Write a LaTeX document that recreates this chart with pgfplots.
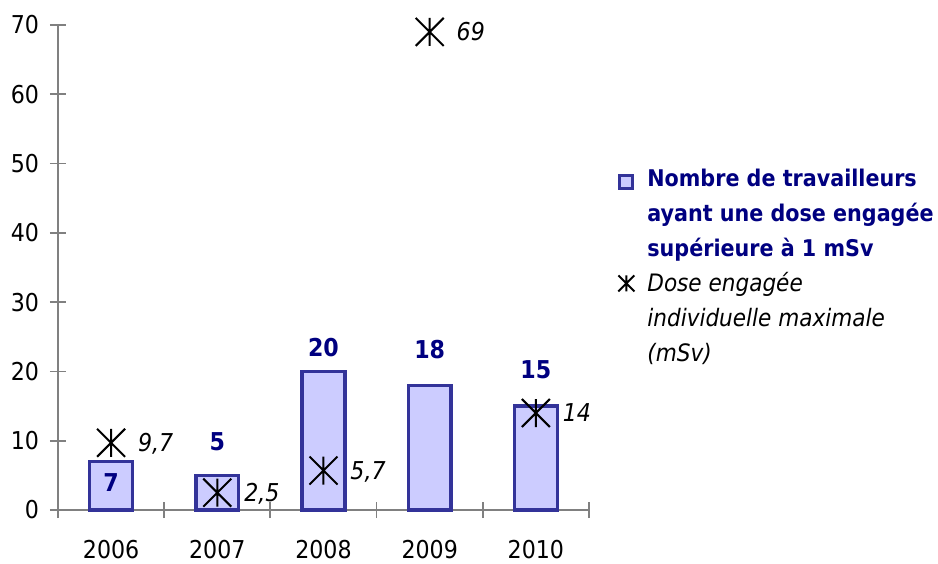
\documentclass[border=0pt]{standalone}
\usepackage{pgfplots}
\pgfplotsset{compat=1.18}
\usepackage{fontspec}
\setmainfont{DejaVuSansCondensed.ttf}[BoldFont=DejaVuSansCondensed-Bold.ttf, ItalicFont=DejaVuSansCondensed-Oblique.ttf, BoldItalicFont=DejaVuSansCondensed-BoldOblique.ttf]
\definecolor{barfill}{HTML}{CCCCFF}
\definecolor{bardraw}{HTML}{333399}
\definecolor{navy}{HTML}{000080}
\definecolor{axisgray}{HTML}{808080}
\newcommand\ls{\rule[-5pt]{0pt}{17pt}}
\newcommand\lsb{\rule[-8pt]{0pt}{20pt}}
\newcommand\lfb{\fontsize{11.5}{17}\selectfont\bfseries}
\newcommand\lfi{\fontsize{12}{17}\selectfont\itshape}
\pgfdeclareplotmark{xstar}{%
  \pgfpathmoveto{\pgfqpoint{-\pgfplotmarksize}{-\pgfplotmarksize}}%
  \pgfpathlineto{\pgfqpoint{\pgfplotmarksize}{\pgfplotmarksize}}%
  \pgfpathmoveto{\pgfqpoint{-\pgfplotmarksize}{\pgfplotmarksize}}%
  \pgfpathlineto{\pgfqpoint{\pgfplotmarksize}{-\pgfplotmarksize}}%
  \pgfpathmoveto{\pgfqpoint{0pt}{-\pgfplotmarksize}}%
  \pgfpathlineto{\pgfqpoint{0pt}{\pgfplotmarksize}}%
  \pgfusepathqstroke}
\pgfplotsset{
  barlegend/.style={legend image code/.code={\draw[##1, line width=1.5pt] (0.75pt,-1.25pt) rectangle (7.25pt,5.25pt);}},
  starlegend/.style={legend image code/.code={\draw[##1, mark size=4pt, line width=0.8pt] plot[only marks] coordinates {(4pt,4pt)};}},
}
\begin{document}
\begin{tikzpicture}[x=1pt,y=1pt]
\begin{axis}[
  at={(0,0)}, anchor=south west,
  scale only axis, width=265.5pt, height=242.5pt,
  xmin=-0.5, xmax=4.5, ymin=0, ymax=70,
  clip=false,
  axis lines=left,
  axis line style={-, draw=axisgray, line width=0.9pt},
  xtick={-0.5,0.5,1.5,2.5,3.5,4.5},
  xticklabels={2006,2007,2008,2009,2010},
  x tick label as interval,
  ytick={0,10,20,30,40,50,60,70},
  tick align=center, major tick length=8pt,
  tick style={draw=axisgray, line width=0.9pt},
  font=\fontsize{12.3}{17}\selectfont,
  xticklabel style={yshift=-7.5pt},
  yticklabel style={xshift=-2pt},
  /pgf/number format/assume math mode=true,
  legend style={at={(axis description cs:1.0546,0.7258)}, anchor=north west,
    draw=none, fill=none, inner sep=0pt, column sep=4.5pt, row sep=0pt,
    cells={anchor=base west, inner sep=0pt}},
]
\addplot[ybar, bar width=21.4pt, fill=barfill, draw=bardraw, line width=1.7pt, barlegend]
  coordinates {(0,7) (1,5) (2,20) (3,18) (4,15)};
\addlegendentry[text=navy, font=\lfb]{\ls Nombre de travailleurs}
\addlegendimage{empty legend}
\addlegendentry[text=navy, font=\lfb]{\ls ayant une dose engagée}
\addlegendimage{empty legend}
\addlegendentry[text=navy, font=\lfb]{\lsb supérieure à 1 mSv}
\addplot[only marks, mark=xstar, mark size=7pt, mark options={draw=black, line width=1pt},
  nodes near coords, point meta=explicit symbolic,
  every node near coord/.append style={anchor=base west, xshift=13pt, yshift=-4.3pt, inner sep=0pt, font=\fontsize{12.3}{17}\selectfont\itshape, text=black},
  starlegend]
  coordinates {(0,9.7)[9,7] (1,2.5)[2,5] (2,5.7)[5,7] (3,69)[69] (4,14)[14]};
\addlegendentry[font=\lfi]{\ls Dose engagée}
\addlegendimage{empty legend}
\addlegendentry[font=\lfi]{\ls individuelle maximale}
\addlegendimage{empty legend}
\addlegendentry[font=\lfi]{\ls (mSv)}
\addplot[forget plot, draw=none, mark=none, nodes near coords, point meta=explicit symbolic,
  every node near coord/.append style={anchor=center, inner sep=0pt, font=\fontsize{12.3}{17}\selectfont\bfseries, text=navy}]
  coordinates {(0,3.9)[7] (1,9.8)[5] (2,23.5)[20] (3,23.2)[18] (4,20.3)[15]};
\end{axis}
\pgfresetboundingbox
\path[use as bounding box] (-29,-26.5) rectangle (440,255);
\end{tikzpicture}
\end{document}
